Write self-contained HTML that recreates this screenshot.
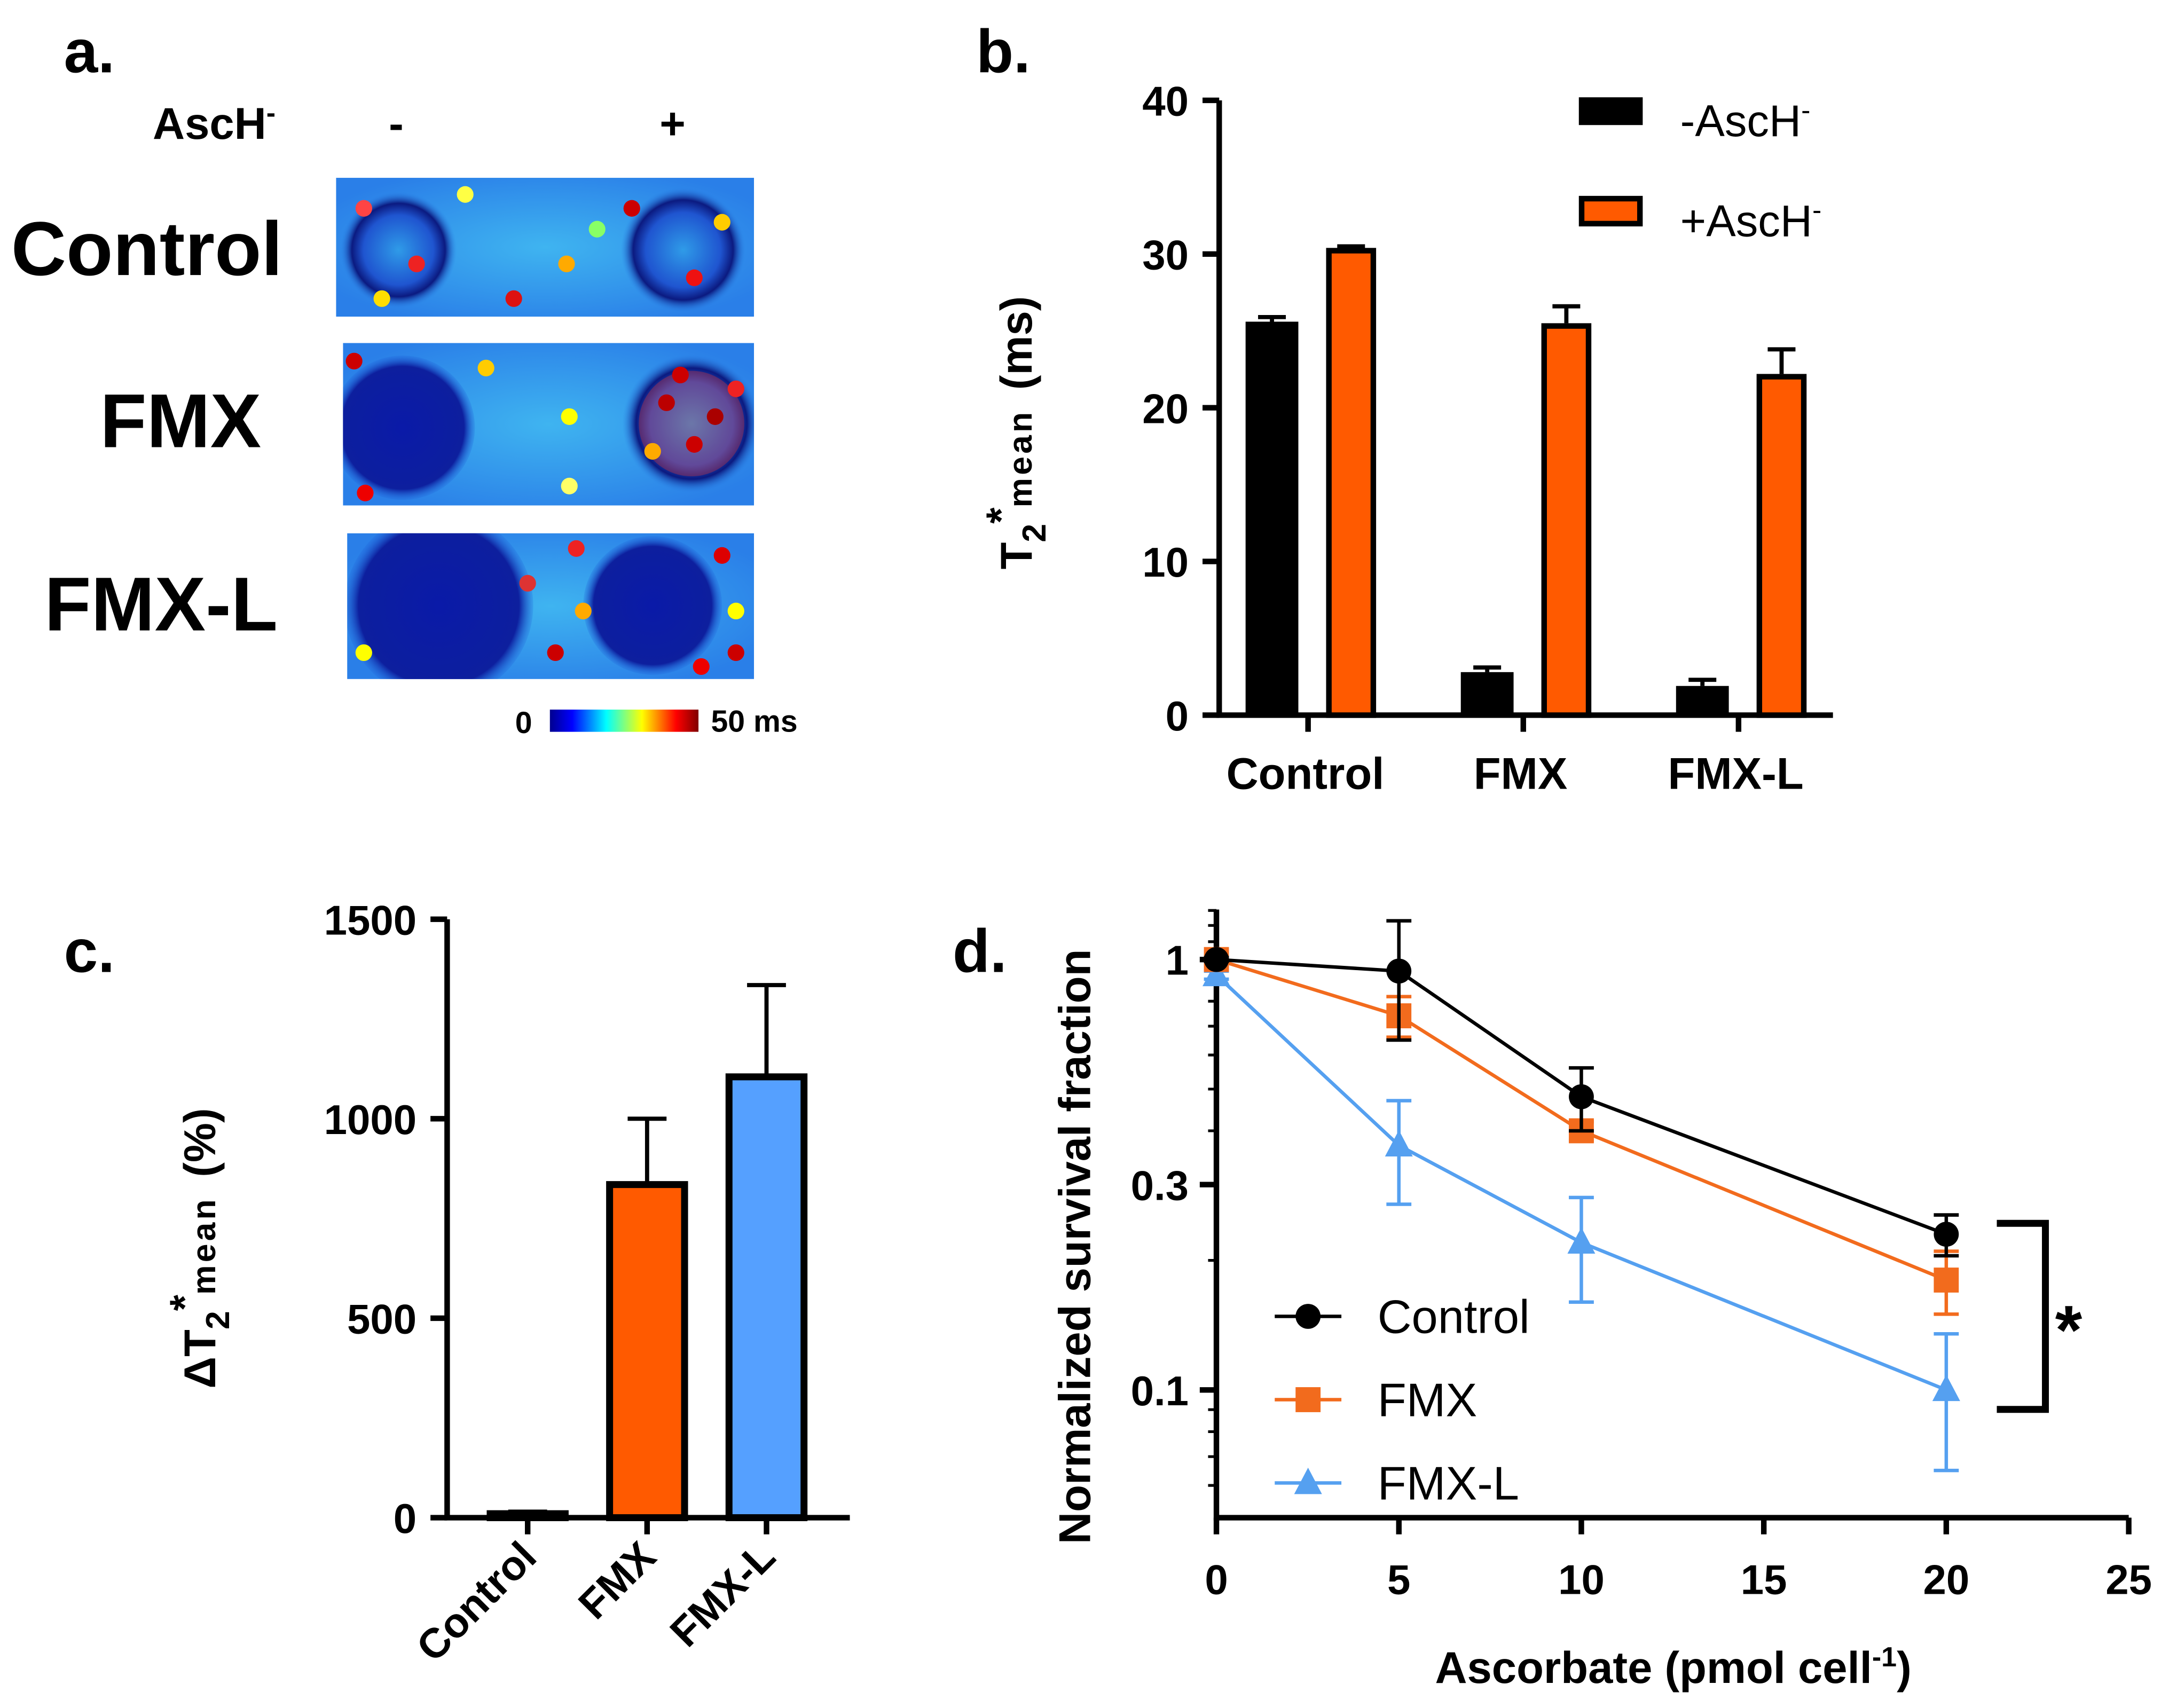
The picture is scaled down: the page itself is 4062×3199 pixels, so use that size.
<!DOCTYPE html>
<html><head><meta charset="utf-8"><style>
html,body{margin:0;padding:0;background:#fff;}
svg{display:block;font-family:"Liberation Sans",Arial,sans-serif;}
</style></head><body>
<svg id="root" width="4062" height="3199" viewBox="0 0 1562 1230" xmlns="http://www.w3.org/2000/svg">
<defs>
<radialGradient id="bg" cx="50%" cy="50%" r="60%"><stop offset="0" stop-color="#3fb4f0"/><stop offset="1" stop-color="#2a7fe8"/></radialGradient>
<radialGradient id="dark" cx="50%" cy="50%" r="50%"><stop offset="0" stop-color="#0a1aa8"/><stop offset="0.85" stop-color="#0d1f9e"/><stop offset="1" stop-color="#1f5fd8" stop-opacity="0.2"/></radialGradient>
<radialGradient id="ring" cx="50%" cy="50%" r="50%"><stop offset="0" stop-color="#2f9be8"/><stop offset="0.6" stop-color="#1f55d0"/><stop offset="0.8" stop-color="#0b1a80"/><stop offset="1" stop-color="#2a7fe8" stop-opacity="0"/></radialGradient>
<linearGradient id="cbar" x1="0" x2="1"><stop offset="0" stop-color="#00008f"/><stop offset="0.15" stop-color="#0000ff"/><stop offset="0.38" stop-color="#00ffff"/><stop offset="0.62" stop-color="#ffff00"/><stop offset="0.85" stop-color="#ff0000"/><stop offset="1" stop-color="#800000"/></linearGradient>
<clipPath id="c1"><rect x="242" y="128" width="301" height="100"/></clipPath>
<clipPath id="c2"><rect x="247" y="247" width="296" height="117"/></clipPath>
<clipPath id="c3"><rect x="250" y="384" width="293" height="105"/></clipPath>
</defs>

<!-- Panel a -->
<g>
<text x="46" y="52" font-size="44" font-weight="bold">a.</text>
<text x="110" y="100" font-size="32" font-weight="bold">AscH<tspan dy="-12" font-size="20">-</tspan></text>
<text x="280" y="100" font-size="32" font-weight="bold">-</text>
<text x="475" y="100" font-size="32" font-weight="bold">+</text>
<text x="8" y="198" font-size="55" font-weight="bold">Control</text>
<text x="72" y="322" font-size="55" font-weight="bold">FMX</text>
<text x="32" y="454" font-size="55" font-weight="bold">FMX-L</text>
<g clip-path="url(#c1)">
<rect x="242" y="128" width="301" height="100" fill="url(#bg)"/>
<circle cx="287" cy="180" r="42" fill="url(#ring)"/><circle cx="492" cy="180" r="45" fill="url(#ring)"/>
</g>
<g clip-path="url(#c2)">
<rect x="247" y="247" width="296" height="117" fill="url(#bg)"/>
<circle cx="290" cy="308" r="52" fill="url(#dark)"/><circle cx="498" cy="305" r="50" fill="url(#ring)"/>
<circle cx="498" cy="305" r="38" fill="#d33" opacity="0.35"/>
</g>
<g clip-path="url(#c3)">
<rect x="250" y="384" width="293" height="105" fill="url(#bg)"/>
<circle cx="316" cy="436" r="68" fill="url(#dark)"/><circle cx="470" cy="436" r="50" fill="url(#dark)"/>
</g>
<g id="spots"></g>
<rect x="396" y="511" width="107" height="16" fill="url(#cbar)"/>
<text x="371" y="528" font-size="22" font-weight="bold">0</text>
<text x="512" y="527" font-size="22" font-weight="bold">50 ms</text>
</g>

<!-- Panel b -->
<g id="pb">
<text x="703" y="52" font-size="44" font-weight="bold">b.</text>
<text transform="translate(743,410) rotate(-90)" font-size="32" font-weight="bold">T<tspan dy="10" font-size="24">2</tspan><tspan dy="-22" font-size="30">*</tspan><tspan dy="12" font-size="24" letter-spacing="2">mean</tspan><tspan dy="0" font-size="32" dx="14">(ms)</tspan></text>
<rect x="1137" y="70" width="46" height="20" fill="#000"/>
<text x="1210" y="98" font-size="32">-AscH<tspan dy="-12" font-size="20">-</tspan></text>
<rect x="1139" y="143" width="42" height="18" fill="#ff5a00" stroke="#000" stroke-width="4"/>
<text x="1210" y="170" font-size="32">+AscH<tspan dy="-12" font-size="20">-</tspan></text>
</g>

<!-- Panel c -->
<g id="pc">
<text x="46" y="700" font-size="44" font-weight="bold">c.</text>
<text transform="translate(155,1000) rotate(-90)" font-size="32" font-weight="bold">ΔT<tspan dy="10" font-size="24">2</tspan><tspan dy="-22" font-size="30">*</tspan><tspan dy="12" font-size="24" letter-spacing="2">mean</tspan><tspan dy="0" font-size="32" dx="14">(%)</tspan></text>
</g>

<!-- Panel d -->
<g id="pd">
<text x="686" y="700" font-size="44" font-weight="bold">d.</text>
<text transform="translate(785,1112) rotate(-90)" font-size="32" font-weight="bold">Normalized survival fraction</text>
<text x="1205" y="1212" font-size="32" font-weight="bold" text-anchor="middle">Ascorbate (pmol cell<tspan dy="-12" font-size="20">-1</tspan><tspan dy="12">)</tspan></text>
<path d="M1438,881 H1473 V1015 H1438" fill="none" stroke="#000" stroke-width="5"/>
<text x="1480" y="975" font-size="50" font-weight="bold">*</text>
</g>

<script>
const NS="http://www.w3.org/2000/svg";
function mk(p,t,a){const e=document.createElementNS(NS,t);for(const k in a)e.setAttribute(k,a[k]);p.appendChild(e);return e;}

const spotsG=document.getElementById('spots');
const spotList=[[262,150,'#f44'],[300,190,'#e22'],[275,215,'#fd0'],[370,215,'#d11'],[408,190,'#fa0'],[455,150,'#c00'],[500,200,'#e11'],[520,160,'#fc0'],[335,140,'#ff4'],[430,165,'#8f6'],
[255,260,'#c00'],[263,355,'#e00'],[350,265,'#fc0'],[410,300,'#ff0'],[480,290,'#b00'],[500,320,'#c00'],[515,300,'#a00'],[470,325,'#fa0'],[490,270,'#c00'],[530,280,'#e22'],[410,350,'#ff6'],
[262,470,'#ff0'],[415,395,'#e22'],[400,470,'#c00'],[520,400,'#d00'],[530,470,'#c00'],[530,440,'#ff0'],[380,420,'#d33'],[420,440,'#fa0'],[505,480,'#e00']];
for(const s of spotList){const c=mk(spotsG,'circle',{cx:s[0],cy:s[1],r:6,fill:s[2]});

}

// ---------- Panel b data ----------
const bCategories=["Control","FMX","FMX-L"];
const bMinus=[25.6,2.8,1.9];
const bMinusErr=[0.3,0.3,0.4];
const bPlus=[30.4,25.5,22.2];
const bPlusErr=[0.1,1.1,1.6];
const bTicks=[0,10,20,30,40];
(function(){
 const g=document.getElementById('pb');
 const x0=878,y0=515,ppu=11.07;
 const y=v=>y0-v*ppu;
 const cx=i=>942+i*155;
 const ax=mk(g,'path',{d:`M${x0},${y(40)} V${y0} H1320`,stroke:'#000','stroke-width':4,fill:'none'});
 
 
 bTicks.forEach(t=>{mk(g,'line',{x1:x0-12,x2:x0,y1:y(t),y2:y(t),stroke:'#000','stroke-width':4});
  const tx=mk(g,'text',{x:x0-22,y:y(t)+11,'font-size':30,'font-weight':'bold','text-anchor':'end'});tx.textContent=t;
  
  });
 bCategories.forEach((c,i)=>{
  mk(g,'line',{x1:cx(i),x2:cx(i),y1:y0,y2:y0+12,stroke:'#000','stroke-width':4});
  const tx=mk(g,'text',{x:cx(i)-2,y:568,'font-size':32,'font-weight':'bold','text-anchor':'middle'});tx.textContent=c;
  
  
  const xm=cx(i)-45;
  mk(g,'line',{x1:xm+19,x2:xm+19,y1:y(bMinus[i]),y2:y(bMinus[i]+bMinusErr[i]),stroke:'#000','stroke-width':3});
  mk(g,'line',{x1:xm+9,x2:xm+29,y1:y(bMinus[i]+bMinusErr[i]),y2:y(bMinus[i]+bMinusErr[i]),stroke:'#000','stroke-width':3});
  const b1=mk(g,'rect',{x:xm,y:y(bMinus[i]),width:38,height:bMinus[i]*ppu,fill:'#000'});
  
  
  const xp=cx(i)+13;
  mk(g,'line',{x1:xp+18,x2:xp+18,y1:y(bPlus[i]),y2:y(bPlus[i]+bPlusErr[i]),stroke:'#000','stroke-width':3});
  mk(g,'line',{x1:xp+8,x2:xp+28,y1:y(bPlus[i]+bPlusErr[i]),y2:y(bPlus[i]+bPlusErr[i]),stroke:'#000','stroke-width':3});
  const b2=mk(g,'rect',{x:xp+2,y:y(bPlus[i])+2,width:32,height:bPlus[i]*ppu-2,fill:'#ff5a00',stroke:'#000','stroke-width':4});
  
  
 });
})();

// ---------- Panel c data ----------
const cCategories=["Control","FMX","FMX-L"];
const cValues=[10,835,1105];
const cErr=[5,165,230];
const cColors=["#000","#ff5a00","#55a0ff"];
const cTicks=[0,500,1000,1500];
(function(){
 const g=document.getElementById('pc');
 const x0=322,y0=1093,ppu=431/1500;
 const y=v=>y0-v*ppu;
 const cx=i=>380+i*86;
 const ax=mk(g,'path',{d:`M${x0},${y(1500)} V${y0} H612`,stroke:'#000','stroke-width':4,fill:'none'});
 
 
 cTicks.forEach(t=>{mk(g,'line',{x1:x0-12,x2:x0,y1:y(t),y2:y(t),stroke:'#000','stroke-width':4});
  const tx=mk(g,'text',{x:x0-22,y:y(t)+11,'font-size':30,'font-weight':'bold','text-anchor':'end'});tx.textContent=t;
  
  });
 cCategories.forEach((c,i)=>{
  mk(g,'line',{x1:cx(i),x2:cx(i),y1:y0,y2:y0+12,stroke:'#000','stroke-width':4});
  const tx=mk(g,'text',{x:cx(i)+8,y:y0+30,'font-size':30,'font-weight':'bold','text-anchor':'end',transform:`rotate(-45 ${cx(i)+8} ${y0+30})`});tx.textContent=c;
  
  
  mk(g,'line',{x1:cx(i),x2:cx(i),y1:y(cValues[i]),y2:y(cValues[i]+cErr[i]),stroke:'#000','stroke-width':3});
  mk(g,'line',{x1:cx(i)-14,x2:cx(i)+14,y1:y(cValues[i]+cErr[i]),y2:y(cValues[i]+cErr[i]),stroke:'#000','stroke-width':3});
  const b=mk(g,'rect',{x:cx(i)-27,y:y(cValues[i]),width:54,height:Math.max(cValues[i]*ppu,1),fill:cColors[i],stroke:'#000','stroke-width':5});
  
  
 });
})();

// ---------- Panel d data ----------
const dX=[0,5,10,20];
const dControl=[1,0.94,0.48,0.23];
const dControlErr=[0.01,0.29,0.08,0.025];
const dFMX=[1,0.74,0.40,0.18];
const dFMXErr=[0.01,0.08,0.02,0.03];
const dFMXL=[0.92,0.37,0.22,0.10];
const dFMXLErr=[0.02,0.1,0.06,0.035];
const dXTicks=[0,5,10,15,20,25];
const dYTicks=[0.1,0.3,1];
(function(){
 const g=document.getElementById('pd');
 const X=v=>876+v*26.28;
 const Y=v=>691-Math.log10(v)*310;
 const ax=mk(g,'path',{d:`M876,655 V1093 H1533`,stroke:'#000','stroke-width':4,fill:'none'});
 
 
 [0.04,0.05,0.06,0.07,0.08,0.09,0.2,0.3,0.4,0.5,0.6,0.7,0.8,0.9,1.1,1.2,1.3].forEach(v=>{
  if(Y(v)<=1093&&Y(v)>=655) mk(g,'line',{x1:870,x2:876,y1:Y(v),y2:Y(v),stroke:'#000','stroke-width':2});});
 dYTicks.forEach(t=>{mk(g,'line',{x1:864,x2:876,y1:Y(t),y2:Y(t),stroke:'#000','stroke-width':4});
  const tx=mk(g,'text',{x:856,y:Y(t)+11,'font-size':30,'font-weight':'bold','text-anchor':'end'});tx.textContent=t;
  
  });
 dXTicks.forEach(t=>{mk(g,'line',{x1:X(t),x2:X(t),y1:1093,y2:1105,stroke:'#000','stroke-width':4});
  const tx=mk(g,'text',{x:X(t),y:1148,'font-size':30,'font-weight':'bold','text-anchor':'middle'});tx.textContent=t;
  
  });
 const series=[[dControl,dControlErr,'#000','circle','control'],[dFMX,dFMXErr,'#f26b1d','square','fmx'],[dFMXL,dFMXLErr,'#55a0f0','triangle','fmx-l']];
 function marker(p,x,y,col,shape){
  if(shape==='circle') return mk(p,'circle',{cx:x,cy:y,r:9,fill:col});
  if(shape==='square') return mk(p,'rect',{x:x-9,y:y-9,width:18,height:18,fill:col});
  return mk(p,'path',{d:`M${x},${y-11} L${x+10},${y+8} L${x-10},${y+8} Z`,fill:col});
 }
 series.slice().reverse().forEach(s=>{
  const [vals,err,col,shape,name]=s;
  const pts=dX.map((x,i)=>X(x)+','+Y(vals[i])).join(' ');
  const l=mk(g,'polyline',{points:pts,fill:'none',stroke:col,'stroke-width':2.5});
  
  
  dX.forEach((x,i)=>{
   const hi=Y(vals[i]+err[i]),lo=Y(Math.max(vals[i]-err[i],0.01));
   mk(g,'line',{x1:X(x),x2:X(x),y1:hi,y2:lo,stroke:col,'stroke-width':2.5});
   mk(g,'line',{x1:X(x)-9,x2:X(x)+9,y1:hi,y2:hi,stroke:col,'stroke-width':2.5});
   mk(g,'line',{x1:X(x)-9,x2:X(x)+9,y1:lo,y2:lo,stroke:col,'stroke-width':2.5});
   const m=marker(g,X(x),Y(vals[i]),col,shape);
   
   
  });
 });
 const leg=[['Control','#000','circle',948],['FMX','#f26b1d','square',1008],['FMX-L','#55a0f0','triangle',1068]];
 leg.forEach(e=>{
  mk(g,'line',{x1:918,x2:966,y1:e[3],y2:e[3],stroke:e[1],'stroke-width':2.5});
  const m=marker(g,942,e[3],e[1],e[2]);
  
  
  const t=mk(g,'text',{x:992,y:e[3]+12,'font-size':34});t.textContent=e[0];
  
  
 });
})();
</script>
</svg>
</body></html>
